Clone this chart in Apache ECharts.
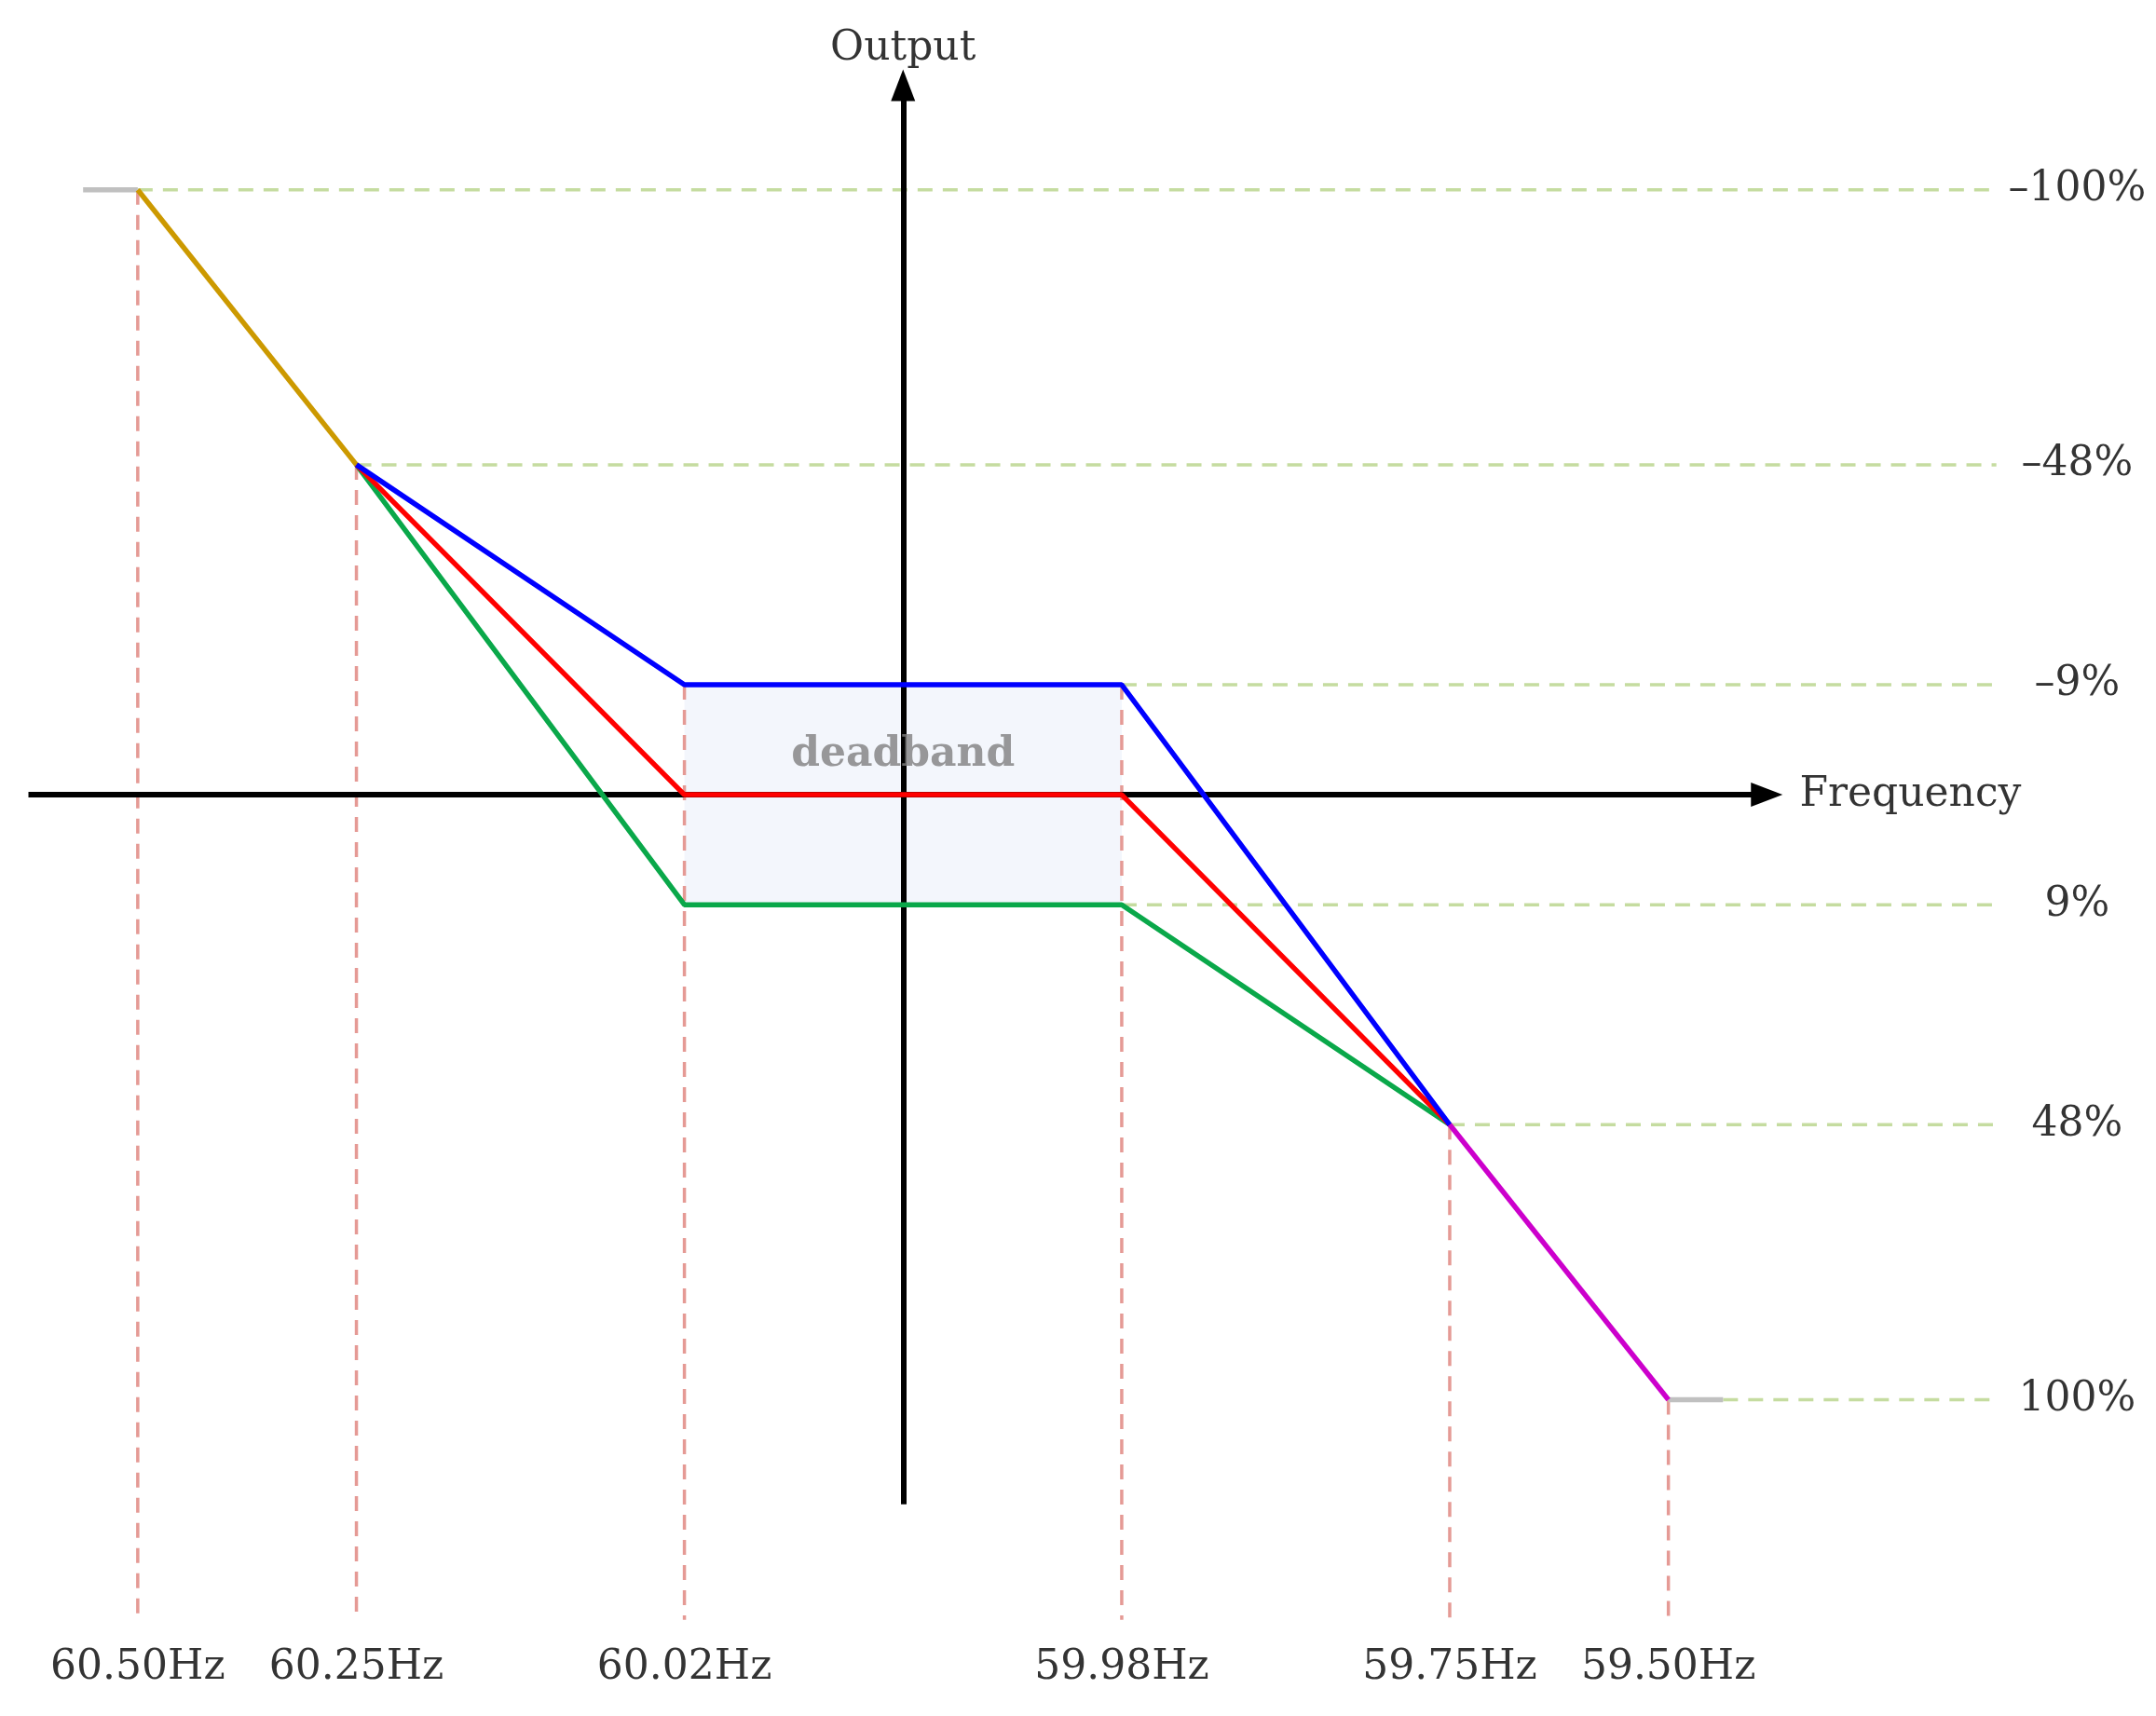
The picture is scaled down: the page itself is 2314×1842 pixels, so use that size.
<!DOCTYPE html>
<html>
<head>
<meta charset="utf-8">
<script src="https://cdn.jsdelivr.net/npm/echarts@6/dist/echarts.min.js"></script>
<style>html,body{margin:0;background:#fff}#main{width:2314px;height:1842px}</style>
</head>
<body>
<div id="main"></div>
<script>
// schematic positions (x: frequency slot, y: output slot, positive = down)
var freqLabels = ["60.50Hz", "60.25Hz", "60.02Hz", "59.98Hz", "59.75Hz", "59.50Hz"];
var freqX = [-3.5, -2.5, -1, 1, 2.5, 3.5];
var outLabels = ["\u2013100%", "\u201348%", "\u20139%", "9%", "48%", "100%"];
var outY = [-5.5, -3, -1, 1, 3, 5.5];

var goldLine = [[-3.5, -5.5], [-2.5, -3]];
var blueLine = [[-2.5, -3], [-1, -1], [1, -1], [2.5, 3]];
var redLine = [[-2.5, -3], [-1, 0], [1, 0], [2.5, 3]];
var greenLine = [[-2.5, -3], [-1, 1], [1, 1], [2.5, 3]];
var magentaLine = [[2.5, 3], [3.5, 5.5]];
var grayLeft = [[-3.75, -5.5], [-3.5, -5.5]];
var grayRight = [[3.5, 5.5], [3.75, 5.5]];
// start x of each horizontal guide
var guideStart = [-3.5, -2.5, 1, 1, 2.5, 3.75];
var guideEnd = 5.0;
var vGuideFrom = [-5.5, -3, -1, -1, 3, 5.5];
var vGuideTo = 7.5;

var font = "'DejaVu Serif', 'Liberation Serif', serif";
var chart = echarts.init(document.getElementById("main"));

function line(data, color, w) {
  return { type: "line", data: data, symbol: "none", silent: true,
    lineStyle: { color: color, width: w || 5.5 }, z: 5 };
}
var series = [];
// guides
outY.forEach(function (y, i) {
  series.push({ type: "line", data: [[guideStart[i], y], [guideEnd, y]], symbol: "none",
    lineStyle: { color: "#c5dca0", width: 3.5, type: [16, 11] }, z: 1 });
});
freqX.forEach(function (x, i) {
  series.push({ type: "line", data: [[x, vGuideFrom[i]], [x, vGuideTo]], symbol: "none",
    lineStyle: { color: "#e59a95", width: 3.5, type: [16, 11] }, z: 1 });
});
// deadband + axes
series.push({ type: "line", data: [], markArea: { silent: true,
  itemStyle: { color: "#f3f6fc" }, data: [[{ coord: [-1, -1] }, { coord: [1, 1] }]] }, z: 0 });
series.push({ type: "line", data: [], z: 3, markLine: { silent: true, symbol: ["none", "triangle"],
  symbolSize: [26, 34], label: { show: false },
  lineStyle: { color: "#000", width: 6, type: "solid" },
  data: [[{ coord: [-4, 0] }, { coord: [3.95, 0] }], [{ coord: [0, 6.45] }, { coord: [0, -6.45] }]] } });
series.push(line(grayLeft, "#c0c0c0"), line(grayRight, "#c0c0c0"));
series.push(line(goldLine, "#cc9900"), line(greenLine, "#0aa84a"), line(redLine, "#ff0000"),
  line(blueLine, "#0000ff"), line(magentaLine, "#cc00cc"));
// labels
function labels(pts, align, extra) {
  return { type: "scatter", symbolSize: 0, silent: true, z: 10,
    data: pts.map(function (p) { return { value: [p[0], p[1]], name: p[2] }; }),
    label: Object.assign({ show: true, position: "inside", formatter: "{b}", color: "#000",
      fontFamily: font, fontSize: 44, align: align }, extra || {}) };
}
series.push(labels(freqX.map(function (x, i) { return [x, 7.94, freqLabels[i]]; }), "center"));
series.push(labels(outY.map(function (y, i) { return [5.37, y, outLabels[i]]; }), "center"));
series.push(labels([[0, -6.78, "Output"]], "center"));
series.push(labels([[4.1, 0, "Frequency"]], "left"));
series.push(labels([[0, -0.36, "deadband"]], "center", { color: "#808080", fontWeight: "bold" }));

chart.setOption({
  animation: false,
  grid: { left: 0, top: 3, width: 2314, height: 1836 },
  xAxis: { type: "value", min: -4.13, max: 5.73, show: false },
  yAxis: { type: "value", min: -7.2, max: 8.35, inverse: true, show: false },
  series: series
});
</script>
</body>
</html>
